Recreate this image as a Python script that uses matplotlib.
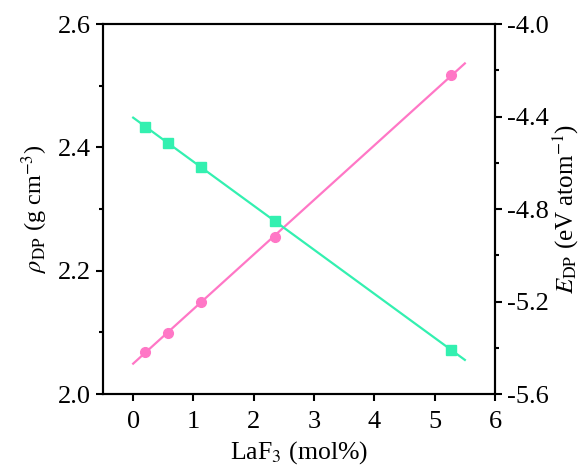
import numpy as np
import matplotlib
matplotlib.use("Agg")
import matplotlib.pyplot as plt
from matplotlib.ticker import MultipleLocator, FormatStrFormatter, FuncFormatter

plt.rcParams['font.family'] = ['Liberation Serif', 'DejaVu Serif']
plt.rcParams['mathtext.fontset'] = 'stix'

# LaF3 content (mol%)
laf3 = [0.19, 0.57, 1.12, 2.36, 5.27]
# density of the glass (g cm^-3)
density = [2.068, 2.099, 2.149, 2.255, 2.517]
# energy per atom (eV atom^-1)
energy = [-4.444, -4.513, -4.617, -4.852, -5.410]

pink = '#FF77C6'
green = '#33F0B0'

fig = plt.figure(figsize=(5.86, 4.68), dpi=100)
ax = fig.add_axes([0.1758, 0.1581, 0.6689, 0.7906])
ax2 = ax.twinx()

# linear fits drawn across 0-5.5 mol%
xfit = np.linspace(0, 5.5, 50)
pd_ = np.polyfit(laf3, density, 1)
pe_ = np.polyfit(laf3, energy, 1)

ax.plot(xfit, np.polyval(pd_, xfit), color=pink, lw=1.6, zorder=2)
ax.plot(laf3, density, 'o', color=pink, ms=7, zorder=3)
ax2.plot(xfit, np.polyval(pe_, xfit), color=green, lw=1.6, zorder=2)
ax2.plot(laf3, energy, 's', color=green, ms=6.5, zorder=3)

ax.set_xlim(-0.5, 6)
ax.set_ylim(2.0, 2.6)
ax2.set_ylim(-5.6, -4.0)

ax.xaxis.set_major_locator(MultipleLocator(1))
ax.yaxis.set_major_locator(MultipleLocator(0.2))
ax.yaxis.set_minor_locator(MultipleLocator(0.1))
ax2.yaxis.set_major_locator(MultipleLocator(0.4))
ax2.yaxis.set_minor_locator(MultipleLocator(0.2))
ax.yaxis.set_major_formatter(FormatStrFormatter('%.1f'))
ax2.yaxis.set_major_formatter(FuncFormatter(lambda v, p: f'{v:.1f}'))

for a in (ax, ax2):
    for s in a.spines.values():
        s.set_linewidth(1.5)
    a.tick_params(which='major', direction='out', length=5, width=1.5, labelsize=19, pad=4)
    a.tick_params(which='minor', direction='out', length=3, width=1.5)
ax.tick_params(axis='x', which='major', pad=7)

ax.set_xlabel('LaF$_3$ (mol%)', fontsize=18.5, labelpad=5)
ax.set_ylabel(r'$\rho_{\mathrm{DP}}$ (g cm$^{-3}$)', fontsize=17.5, labelpad=5)
ax2.set_ylabel(r'$E_{\mathrm{DP}}$ (eV atom$^{-1}$)', fontsize=18, labelpad=1)

fig.savefig('out.png', dpi=100)
